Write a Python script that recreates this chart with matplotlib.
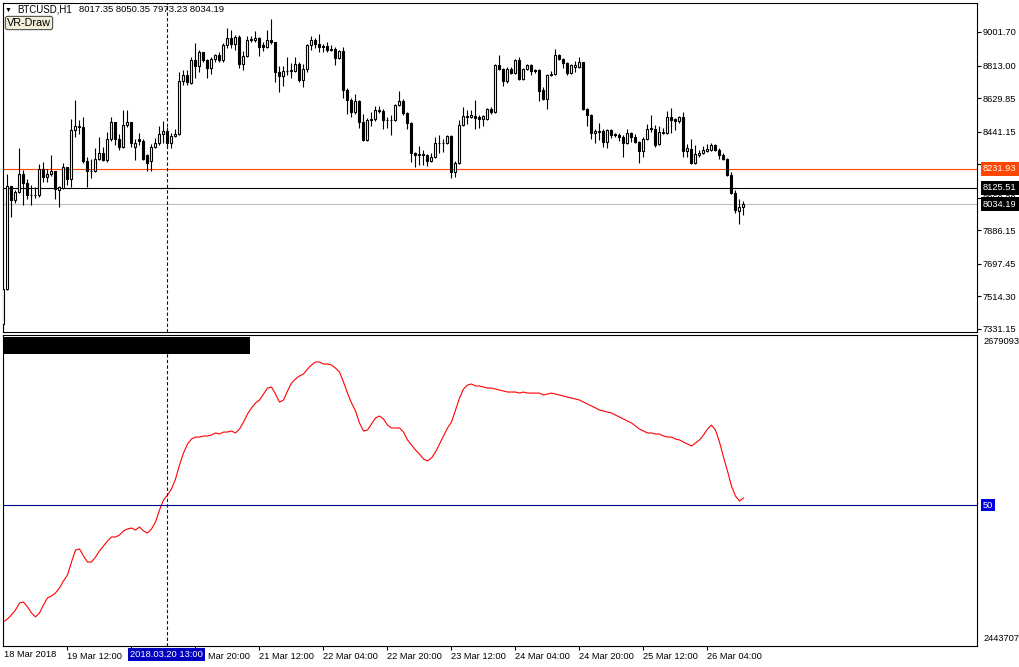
import numpy as np
import matplotlib
matplotlib.use("Agg")
import matplotlib.pyplot as plt
from matplotlib.patches import Rectangle

plt.rcParams['font.family'] = ['Liberation Sans', 'DejaVu Sans']
plt.rcParams['font.size'] = 6.7

# BTCUSD H1 bars, first bar 18 Mar 2018 20:00
opens = [7359, 7556, 8135, 8057, 8102, 8203, 8152, 8085, 8085, 8085,
         8231, 8186, 8203, 8220, 8113, 8124, 8242, 8175, 8450, 8473,
         8467, 8276, 8220, 8220, 8287, 8321, 8282, 8400, 8495, 8400,
         8355, 8479, 8495, 8355, 8400, 8389, 8310, 8276, 8355, 8377,
         8428, 8445, 8377, 8417, 8428, 8726, 8760, 8715, 8844, 8810,
         8889, 8844, 8799, 8850, 8872, 8844, 8929, 8968, 8934, 8974,
         8822, 8867, 8962, 8957, 8968, 8929, 8917, 8957, 8945, 8777,
         8754, 8782, 8788, 8782, 8822, 8732, 8794, 8929, 8957, 8934,
         8917, 8923, 8900, 8906, 8855, 8895, 8675, 8619, 8552, 8614,
         8495, 8394, 8507, 8512, 8563, 8557, 8507, 8507, 8507, 8591,
         8614, 8546, 8490, 8321, 8310, 8315, 8310, 8276, 8299, 8377,
         8377, 8377, 8417, 8214, 8265, 8479, 8529, 8524, 8529, 8524,
         8512, 8512, 8569, 8552, 8816, 8794, 8726, 8794, 8771, 8844,
         8737, 8794, 8816, 8788, 8788, 8675, 8625, 8760, 8765, 8872,
         8850, 8827, 8771, 8805, 8805, 8833, 8569, 8535, 8434, 8439,
         8445, 8383, 8450, 8428, 8422, 8411, 8377, 8434, 8411, 8383,
         8332, 8400, 8462, 8456, 8372, 8439, 8434, 8524, 8512, 8501,
         8524, 8332, 8344, 8265, 8310, 8321, 8332, 8338, 8366, 8338,
         8310, 8287, 8197, 8096, 7995, 8017.35]
highs = [7567, 8203, 8135, 8113, 8349, 8225, 8175, 8141, 8130, 8259,
         8270, 8231, 8310, 8220, 8135, 8265, 8242, 8512, 8619, 8507,
         8524, 8299, 8287, 8349, 8411, 8355, 8439, 8524, 8495, 8428,
         8563, 8563, 8495, 8400, 8434, 8400, 8315, 8372, 8405, 8473,
         8501, 8467, 8434, 8456, 8777, 8788, 8788, 8861, 8940, 8900,
         8889, 8850, 8861, 8878, 8889, 8940, 9024, 9013, 8985, 8985,
         8895, 8979, 8979, 9007, 8974, 8945, 9013, 9075, 8945, 8810,
         8810, 8861, 8827, 8861, 8833, 8822, 8934, 8979, 8968, 8990,
         8934, 8945, 8929, 8917, 8900, 8917, 8687, 8630, 8653, 8619,
         8540, 8518, 8552, 8585, 8585, 8569, 8524, 8535, 8597, 8670,
         8625, 8552, 8495, 8327, 8360, 8338, 8315, 8321, 8411, 8422,
         8400, 8422, 8422, 8276, 8507, 8580, 8563, 8563, 8619, 8535,
         8535, 8574, 8580, 8822, 8872, 8799, 8805, 8805, 8850, 8861,
         8799, 8822, 8822, 8794, 8794, 8692, 8765, 8782, 8906, 8878,
         8855, 8833, 8822, 8839, 8861, 8833, 8574, 8540, 8456, 8490,
         8456, 8456, 8456, 8434, 8434, 8422, 8456, 8439, 8428, 8389,
         8411, 8484, 8535, 8479, 8473, 8462, 8557, 8574, 8518, 8529,
         8552, 8372, 8400, 8366, 8338, 8360, 8372, 8377, 8372, 8349,
         8321, 8293, 8214, 8113, 8062, 8050.35]
lows = [7337, 7550, 7961, 8040, 8096, 8029, 8062, 8029, 8068, 8074,
        8158, 8158, 8192, 8062, 8017, 8119, 8141, 8130, 8411, 8428,
        8265, 8130, 8180, 8214, 8282, 8276, 8270, 8389, 8366, 8338,
        8349, 8467, 8355, 8282, 8366, 8282, 8220, 8220, 8349, 8366,
        8377, 8349, 8349, 8411, 8422, 8704, 8704, 8709, 8743, 8777,
        8833, 8743, 8765, 8833, 8833, 8833, 8912, 8912, 8900, 8799,
        8788, 8861, 8945, 8945, 8867, 8895, 8912, 8934, 8720, 8664,
        8698, 8760, 8743, 8777, 8720, 8692, 8777, 8900, 8912, 8889,
        8889, 8889, 8895, 8816, 8850, 8630, 8540, 8524, 8540, 8462,
        8389, 8389, 8473, 8501, 8546, 8456, 8462, 8422, 8501, 8585,
        8535, 8456, 8270, 8242, 8254, 8254, 8248, 8270, 8293, 8321,
        8327, 8372, 8180, 8186, 8259, 8473, 8484, 8518, 8456, 8462,
        8473, 8507, 8540, 8546, 8788, 8698, 8715, 8765, 8765, 8732,
        8732, 8788, 8760, 8771, 8614, 8619, 8569, 8754, 8760, 8844,
        8799, 8760, 8765, 8777, 8799, 8563, 8473, 8400, 8377, 8394,
        8355, 8349, 8405, 8411, 8389, 8299, 8372, 8383, 8377, 8265,
        8299, 8394, 8439, 8355, 8366, 8428, 8428, 8434, 8450, 8490,
        8299, 8299, 8259, 8259, 8299, 8315, 8327, 8332, 8332, 8287,
        8282, 8192, 8090, 7984, 7922, 7973.23]
closes = [7556, 8135, 8057, 8102, 8203, 8152, 8085, 8083, 8087, 8231,
          8186, 8203, 8220, 8119, 8130, 8242, 8175, 8450, 8473, 8467,
          8276, 8220, 8218, 8287, 8321, 8282, 8400, 8495, 8400, 8355,
          8479, 8495, 8377, 8377, 8389, 8287, 8265, 8355, 8377, 8428,
          8445, 8377, 8417, 8428, 8726, 8760, 8720, 8844, 8810, 8889,
          8844, 8799, 8850, 8872, 8844, 8929, 8968, 8934, 8974, 8822,
          8867, 8957, 8957, 8968, 8917, 8917, 8957, 8945, 8777, 8754,
          8782, 8780, 8782, 8822, 8732, 8794, 8929, 8957, 8934, 8917,
          8923, 8900, 8906, 8855, 8895, 8675, 8619, 8552, 8614, 8495,
          8394, 8507, 8512, 8563, 8557, 8507, 8505, 8509, 8591, 8614,
          8546, 8490, 8321, 8310, 8315, 8310, 8276, 8299, 8377, 8375,
          8379, 8417, 8214, 8265, 8479, 8529, 8524, 8535, 8518, 8512,
          8529, 8569, 8552, 8816, 8794, 8726, 8794, 8771, 8844, 8737,
          8794, 8816, 8782, 8782, 8670, 8625, 8760, 8765, 8872, 8850,
          8827, 8771, 8816, 8816, 8833, 8569, 8535, 8434, 8445, 8445,
          8383, 8450, 8422, 8422, 8411, 8377, 8434, 8411, 8383, 8332,
          8400, 8456, 8456, 8366, 8439, 8434, 8524, 8507, 8501, 8524,
          8332, 8349, 8265, 8315, 8321, 8338, 8344, 8366, 8338, 8310,
          8287, 8197, 8096, 8000, 8017, 8034.19]

# lower window indicator, in thousands
ind_k = [2461.2, 2463.4, 2466.5, 2470.3, 2475.6, 2476.3, 2472.6, 2468.0, 2465.0, 2468.0,
         2474.1, 2479.4, 2480.9, 2483.2, 2487.0, 2492.3, 2496.9, 2506.7, 2515.8, 2516.6,
         2511.3, 2506.7, 2506.7, 2510.5, 2515.1, 2518.9, 2522.7, 2525.7, 2525.7, 2527.2,
         2530.3, 2531.8, 2532.5, 2531.0, 2533.3, 2530.3, 2528.7, 2531.8, 2537.1, 2546.2,
         2553.8, 2557.6, 2562.2, 2569.7, 2580.4, 2589.5, 2596.3, 2600.1, 2601.6, 2601.6,
         2602.4, 2602.4, 2603.2, 2604.7, 2603.9, 2605.4, 2605.4, 2606.2, 2604.7, 2607.7,
         2613.0, 2619.1, 2623.7, 2627.5, 2629.7, 2634.3, 2638.8, 2639.6, 2634.3, 2628.2,
         2629.7, 2636.6, 2642.6, 2645.7, 2648.0, 2649.5, 2653.3, 2656.3, 2658.6, 2658.6,
         2657.1, 2657.1, 2656.3, 2654.0, 2651.0, 2643.4, 2635.0, 2627.5, 2621.4, 2612.3,
         2606.2, 2606.9, 2611.5, 2616.1, 2617.6, 2615.3, 2610.7, 2608.5, 2608.5, 2608.5,
         2605.4, 2599.4, 2595.6, 2591.8, 2588.7, 2584.9, 2583.4, 2585.7, 2590.2, 2596.3,
         2602.4, 2608.5, 2613.0, 2622.1, 2631.2, 2638.1, 2641.1, 2641.9, 2640.4, 2640.4,
         2639.6, 2638.8, 2638.8, 2638.1, 2637.3, 2636.6, 2635.8, 2635.8, 2635.8, 2635.0,
         2635.8, 2635.0, 2635.0, 2635.0, 2635.0, 2633.5, 2634.3, 2635.0, 2634.3, 2633.5,
         2632.8, 2632.0, 2631.2, 2630.5, 2629.7, 2628.2, 2626.7, 2625.2, 2623.7, 2622.1,
         2621.4, 2620.6, 2619.9, 2618.3, 2616.8, 2615.3, 2613.8, 2612.3, 2610.0, 2607.7,
         2606.2, 2604.7, 2604.7, 2603.9, 2603.9, 2602.4, 2601.6, 2601.6, 2600.1, 2599.4,
         2597.8, 2596.3, 2594.8, 2597.1, 2599.4, 2603.2, 2607.7, 2610.7, 2606.9, 2597.8,
         2586.4, 2575.8, 2564.4, 2556.8, 2553.0, 2555.3]

price_ticks = [9001.70, 8813.00, 8629.85, 8441.15, 8258.00, 8069.30,
               7886.15, 7697.45, 7514.30, 7331.15]
time_ticks = [16, 32, 48, 64, 80, 96, 112, 128, 144, 160, 176]
time_labels = ['19 Mar 12:00', '20 Mar 04:00', '20 Mar 20:00', '21 Mar 12:00',
               '22 Mar 04:00', '22 Mar 20:00', '23 Mar 12:00', '24 Mar 04:00',
               '24 Mar 20:00', '25 Mar 12:00', '26 Mar 04:00']
levels = [(8231.93, '#FF4500', '#FF4500'), (8125.51, 'black', 'black'),
          (8034.19, '#C0C0C0', 'black')]
cursor_bar = 41

W, H = 1020, 667
fig = plt.figure(figsize=(W / 100, H / 100), dpi=100)


def px_box(l, t, r, b):
    return [l / W, 1 - b / H, (r - l) / W, (b - t) / H]


ax = fig.add_axes(px_box(3, 2.7, 977, 332))
ax2 = fig.add_axes(px_box(3, 334.5, 977, 646))

for a in (ax, ax2):
    for s in a.spines.values():
        s.set_linewidth(0.8)
        s.set_color('black')

o = np.array(opens, dtype=float)
h = np.array(highs, dtype=float)
l = np.array(lows, dtype=float)
c = np.array(closes, dtype=float)
x = np.arange(len(c))
up = c >= o

# horizontal levels first, candles on top
for val, lc, bg in levels:
    ax.axhline(val, color=lc, lw=0.8, zorder=1)

ax.vlines(x, l, h, color='black', lw=0.8, zorder=2)
ax.bar(x[up], (c - o)[up], bottom=o[up], width=0.5, facecolor='white',
       edgecolor='black', linewidth=0.8, zorder=3)
ax.bar(x[~up], (o - c)[~up], bottom=c[~up], width=0.5, facecolor='black',
       edgecolor='black', linewidth=0.8, zorder=3)

ax.set_xlim(-0.125, 243.375)
ax.set_ylim(7314.2, 9166.5)
ax.set_xticks([])
ax.yaxis.tick_right()
ax.set_yticks(price_ticks)
ax.set_yticklabels([f'{v:.2f}' for v in price_ticks])
ax.tick_params(axis='y', length=3, width=0.8, pad=1, labelsize=6.7)

for val, lc, bg in levels:
    ax.text(1.0062, val, f'{val:.2f}', transform=ax.get_yaxis_transform(),
            ha='left', va='center', color='white', fontsize=6.7,
            bbox=dict(boxstyle='square,pad=0.25', fc=bg, ec='none'),
            clip_on=False, zorder=6)

ax.axvline(cursor_bar, color='#00008B', lw=0.8, ls=(0, (3, 2)), zorder=4)

# lower window
ax2.plot(x, np.array(ind_k) * 1000, color='red', lw=0.8)
ax2.set_xlim(-0.125, 243.375)
ax2.set_ylim(2442900, 2679500)
ax2.set_yticks([])
ax2.axvline(cursor_bar, color='#00008B', lw=0.8, ls=(0, (3, 2)), zorder=4)

lvl50 = 0.4526
ax2.plot([0, 1], [lvl50, lvl50], transform=ax2.transAxes, color='#00008B', lw=0.8)
ax2.text(1.0062, lvl50, '50', transform=ax2.transAxes, ha='left', va='center',
         color='white', fontsize=6.7,
         bbox=dict(boxstyle='square,pad=0.2', fc='#0000E0', ec='none'), clip_on=False)
ax2.text(1.0062, 0.979, '2679093', transform=ax2.transAxes, ha='left', va='center',
         fontsize=6.7, clip_on=False)
ax2.text(1.0062, 0.0225, '2443707', transform=ax2.transAxes, ha='left', va='center',
         fontsize=6.7, clip_on=False)
ax2.add_patch(Rectangle((0, 0.937), 247 / 974, 0.055, transform=ax2.transAxes,
                        fc='black', ec='none', zorder=5))

ax2.set_xticks(time_ticks)
ax2.set_xticklabels(time_labels, ha='left')
ax2.tick_params(axis='x', direction='out', length=3, width=0.8, pad=1.5, labelsize=6.7)
ax2.text(0.1, -0.0125, '18 Mar 2018', transform=ax2.get_xaxis_transform(),
         ha='left', va='top', fontsize=6.7)
ax2.text(cursor_bar - 0.25, -0.0125, '2018.03.20 13:00', transform=ax2.get_xaxis_transform(),
         ha='center', va='top', color='white', fontsize=6.7,
         bbox=dict(boxstyle='square,pad=0.2', fc='#0000C0', ec='none'), zorder=6)

# header
fig.text(5 / W, 1 - 10 / H, '\u25bc', fontsize=5, va='center', ha='left')
fig.text(17 / W, 1 - 10 / H, 'BTCUSD,H1', fontsize=7, va='center', ha='left')
fig.text(79 / W, 1 - 10 / H, '8017.35 8050.35 7973.23 8034.19', fontsize=6.8,
         va='center', ha='left')
fig.text(7 / W, 1 - 23 / H, 'VR-Draw', fontsize=7.8, va='center', ha='left',
         bbox=dict(boxstyle='round,pad=0.15,rounding_size=0.2', fc='#F3EED9', ec='#505050', lw=0.8))

fig.savefig('out.png', dpi=100, facecolor='white')
